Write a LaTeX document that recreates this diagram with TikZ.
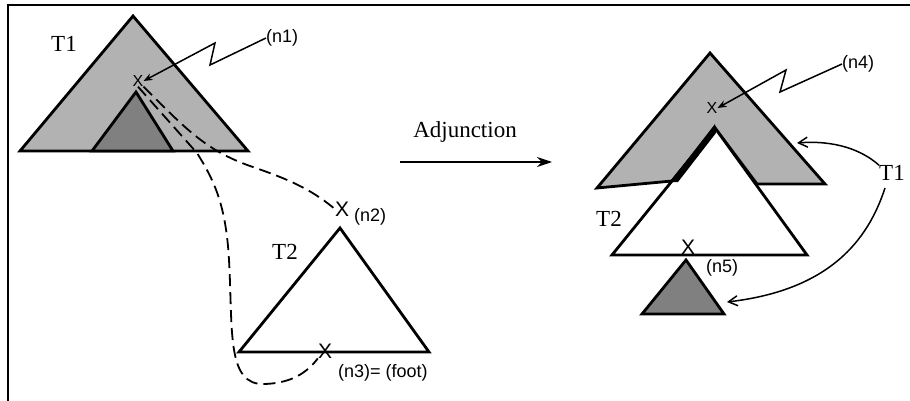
\documentclass[tikz,border=0pt]{standalone}
\usepackage{fontspec}
\setmainfont{Liberation Serif}
\newfontfamily\labfont{Liberation Sans}
\usetikzlibrary{arrows.meta}
\begin{document}
\begin{tikzpicture}[x=1pt,y=-1pt,
  tri/.style={line width=2.8pt,line join=miter},
  lite/.style={fill=black!30},
  dark/.style={fill=black!50},
  dsh/.style={line width=1.8pt,dash pattern=on 12pt off 6pt},
  lbl/.style={font=\labfont\fontsize{18}{20}\selectfont,inner sep=0pt},
  ttl/.style={font=\fontsize{23}{26}\selectfont,inner sep=0pt},
  xbig/.style={font=\labfont\fontsize{21}{21}\selectfont,inner sep=0pt},
  xsmall/.style={font=\labfont\fontsize{16}{16}\selectfont,inner sep=0pt},
  zig/.style={line width=1.5pt,-{Stealth[length=9pt,width=7pt]}},
  curvearrow/.style={line width=1.5pt,-{Straight Barb[length=9pt,width=10pt]}}]
\useasboundingbox (0,0) rectangle (910,401);
% frame
\draw[line width=2pt] (8,401) -- (8,5) -- (910,5);

% ---------- left T1 ----------
\coordinate (a1) at (133,16);
\coordinate (b1) at (20,151);
\coordinate (c1) at (248,151);
\draw[tri,lite] (a1) -- (b1) -- (c1) -- cycle;
\draw[tri,dark] (136,92) -- (92,151) -- (173,151) -- cycle;
\node[ttl] (t1l) at (64,44) {T1};
\node[xsmall] (x1) at (138,81) {X};
\node[lbl,anchor=west] (l1) at (266,38) {(n1)};
\draw[zig] (l1.west) -- (210,65) -- (215,43) -- (x1.east);

% ---------- T2 (left) ----------
\coordinate (a2) at (340,228);
\coordinate (b2) at (239,352);
\coordinate (c2) at (429,352);
\draw[tri,fill=white] (a2) -- (b2) -- (c2) -- cycle;
\node[ttl] (t2l) at (285,252) {T2};
\node[xbig] (x2) at (342,209) {X};
\node[lbl,anchor=west] (l2) at (354,217) {(n2)};
\node[xbig] (x3) at (325,351) {X};
\node[lbl,anchor=west] (l3) at (338,373) {(n3)=\ (foot)};

% dashed links
\draw[dsh] (x1.south) -- (197,153) .. controls (214,180) and (226,205) .. (229,260)
  .. controls (233,330) and (226,386) .. (265,384)
  .. controls (290,383) and (306,374) .. (x3.south west);
\draw[dsh] (x1.south east) .. controls (185,128) and (205,150) .. (250,166)
  .. controls (285,178) and (310,188) .. (x2.west);

% ---------- Adjunction ----------
\node[ttl] (adj) at (465,132) {Adjunction};
\coordinate (ar1) at (400,162);
\coordinate (ar2) at (552,162);
\draw[line width=1.5pt,-{Stealth[length=15pt,width=10pt]}] (ar1) -- (ar2);

% ---------- right result ----------
\draw[tri,lite] (710,53) -- (825,184) -- (757,184) -- (715,128) -- (672,181) -- (597,188) -- cycle;
\draw[tri,fill=white] (715,128) -- (807,255) -- (612,255) -- cycle;
\fill (715,124) -- (670,182) -- (678,182) -- (716,133) -- cycle;
\node[xsmall] (x4) at (712,108) {X};
\node[lbl,anchor=west] (l4) at (842,64) {(n4)};
\draw[zig] (l4.west) -- (780,92) -- (786,70) -- (x4.east);
\node[ttl] (t2r) at (609,219) {T2};
\node[xbig] (x5) at (688,247) {X};
\node[lbl,anchor=west] (l5) at (706,268) {(n5)};
\draw[tri,dark] (686,260) -- (642,314) -- (724,314) -- cycle;
\node[ttl,anchor=west] (t1r) at (879,173) {T1};
\coordinate (tg1) at (797,143);
\coordinate (tg2) at (727,302);
\draw[curvearrow] (t1r.north west) .. controls (862,150) and (835,140) .. (tg1);
\draw[curvearrow] (885,188) .. controls (868,240) and (830,290) .. (tg2);
\end{tikzpicture}
\end{document}
